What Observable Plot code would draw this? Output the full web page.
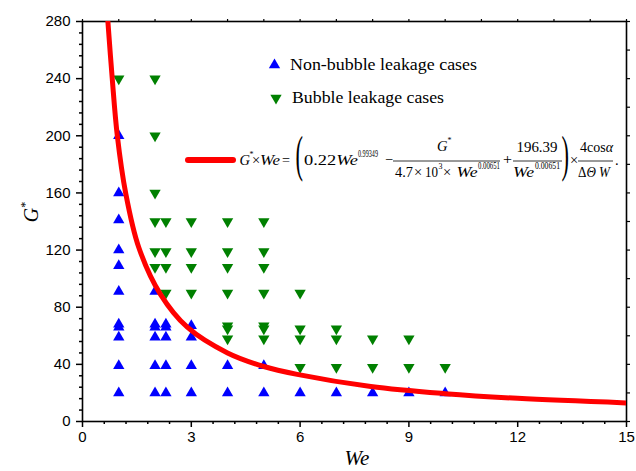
<!DOCTYPE html>
<html>
<head>
<meta charset="utf-8">
<script src="https://cdn.jsdelivr.net/npm/d3@7"></script>
<script src="https://cdn.jsdelivr.net/npm/@observablehq/plot@0.6"></script>
<style>
  html, body { margin: 0; padding: 0; background: white; }
  #chart svg { display: block; }
</style>
</head>
<body>
<div id="chart"></div>
<script>
// ---- data ----
const weColumns = [1, 2, 2.3, 3, 4, 5, 6, 7, 8, 9, 10];
const nonBubbleG = [
  [20, 39, 59, 66, 68, 91, 109, 120, 141, 160, 200],
  [20, 39, 59, 66, 68, 91],
  [20, 39, 59, 66, 68],
  [20, 39, 59, 67],
  [20, 39],
  [20, 39],
  [20],
  [20],
  [20],
  [20],
  [20]
];
const bubbleG = [
  [240],
  [108, 119, 140, 160, 200, 240],
  [90, 108, 119, 140],
  [90, 108, 119, 140],
  [58, 65, 67, 90, 108, 119, 140],
  [58, 65, 67, 90, 108, 119, 140],
  [38, 58, 65, 90],
  [38, 58, 65],
  [38, 58],
  [38, 58],
  [38]
];
// fitted curve, points
const curveWe = [0.70, 0.82, 0.96, 1.19, 1.55, 2.15, 2.89, 4.0, 5.0, 5.92, 7.95, 10.0, 12.0, 15.0];
const curveG  = [280, 240, 200, 160, 122, 89, 66, 48, 38.5, 33, 24.5, 19.5, 16.2, 13.0];

const xTicks = [0, 3, 6, 9, 12, 15];
const yTicks = [0, 40, 80, 120, 160, 200, 240, 280];
const xMinor = d3.range(0, 26).map(i => +(i * 0.6).toFixed(2)).filter(v => Math.abs(v / 3 - Math.round(v / 3)) > 1e-6);
const yMinor = d3.range(0, 36).map(i => i * 8).filter(v => v % 40 !== 0);
const xTop = d3.range(0, 16);
const yRight = d3.range(0, 281, 20);

const legendLabels = ["Non-bubble leakage cases", "Bubble leakage cases"];

// ---- build tables ----
const nonBubble = weColumns.flatMap((w, i) => nonBubbleG[i].map(g => ({We: w, G: g})));
const bubble = weColumns.flatMap((w, i) => bubbleG[i].map(g => ({We: w, G: g})));
const curve = curveWe.map((w, i) => ({We: w, G: curveG[i]}));

const blank = () => "";

const chart = Plot.plot({
  width: 636,
  height: 471,
  marginLeft: 82,
  marginRight: 10,
  marginTop: 21,
  marginBottom: 50,
  x: {domain: [0, 15]},
  y: {domain: [0, 280]},
  style: {fontFamily: "'Liberation Sans', Arial, sans-serif", fontSize: "15px", color: "black", background: "white"},
  marks: [
    Plot.axisX(xMinor, {tickSize: 3, tickFormat: blank, strokeWidth: 1.5, label: null}),
    Plot.axisX(xTicks, {tickSize: 6, tickPadding: 4, strokeWidth: 1.5, label: null, fontSize: 15}),
    Plot.axisX(xTop, {anchor: "top", tickSize: 3, tickFormat: blank, strokeWidth: 1.2, label: null}),
    Plot.axisY(yMinor, {tickSize: 3, tickFormat: blank, strokeWidth: 1.5, label: null}),
    Plot.axisY(yTicks, {tickSize: 6, tickPadding: 6, strokeWidth: 1.5, label: null, fontSize: 15}),
    Plot.axisY(yRight, {anchor: "right", tickSize: 3, tickFormat: blank, strokeWidth: 1.2, label: null}),
    Plot.frame({stroke: "black", strokeWidth: 1.6}),
    Plot.dot(nonBubble, {x: "We", y: "G", symbol: "triangle", r: 4.2, fill: "#0000ff"}),
    Plot.dot(bubble, {x: "We", y: "G", symbol: "triangle", r: 4.2, fill: "#008000", rotate: 180}),
    Plot.line(curve, {x: "We", y: "G", stroke: "#ff0000", strokeWidth: 5, curve: "catmull-rom", clip: true})
  ]
});

document.getElementById("chart").appendChild(chart);

// ---- annotations: axis titles, legend, equation ----
const svg = d3.select(chart);
const serif = "'Liberation Serif', 'Times New Roman', serif";
const g = svg.append("g").attr("font-family", serif).attr("fill", "black").attr("text-anchor", "start");

function txt(x, y, s, size, opts = {}) {
  const t = g.append("text").attr("x", x).attr("y", y).attr("font-size", size).text(s);
  if (opts.italic) t.attr("font-style", "italic");
  if (opts.len) t.attr("textLength", opts.len).attr("lengthAdjust", "spacingAndGlyphs");
  if (opts.anchor) t.attr("text-anchor", opts.anchor);
  return t;
}

// axis titles
const yl = g.append("text")
  .attr("transform", "translate(38,212) rotate(-90)")
  .attr("text-anchor", "middle").attr("font-size", 20);
yl.append("tspan").attr("font-style", "italic").text("G");
yl.append("tspan").attr("font-size", 12).attr("dy", -9).text("*");
txt(357, 465, "We", 21, {italic: true, anchor: "middle"});

// legend
svg.append("path").attr("d", d3.symbol(d3.symbolTriangle, Math.PI * 4.2 * 4.2)())
  .attr("transform", "translate(274.5,65)").attr("fill", "#0000ff");
svg.append("path").attr("d", d3.symbol(d3.symbolTriangle, Math.PI * 4.2 * 4.2)())
  .attr("transform", "translate(276,98) rotate(180)").attr("fill", "#008000");
txt(290, 69.5, legendLabels[0], 17, {len: 187});
txt(292, 103, legendLabels[1], 17, {len: 152});
svg.append("line").attr("x1", 188).attr("x2", 233).attr("y1", 160).attr("y2", 160)
  .attr("stroke", "#ff0000").attr("stroke-width", 6).attr("stroke-linecap", "round");

// equation
const y0 = 165, yn = 152, yd = 177, fs = 14.5, ss = 9.5;
txt(239.5, y0, "G", fs, {italic: true});
txt(249.5, y0 - 8, "*", 8);
txt(252, y0, "×", fs);
txt(260, y0, "We", fs, {italic: true, len: 20});
txt(282, y0, "=", fs, {len: 8});
g.append("text").attr("transform", "translate(295.5,171) scale(0.45,1)").attr("font-size", 50).text("(");
{
  const t = txt(304, y0, "", fs, {len: 54});
  t.append("tspan").text("0.22");
  t.append("tspan").attr("font-style", "italic").text("We");
}
txt(358, y0 - 8, "0.99349", ss, {len: 20});
txt(385, y0 - 1, "−", fs, {len: 8});
// fraction 1
txt(437, yn - 1, "G", fs, {italic: true});
txt(447.5, yn - 9, "*", 8);
g.append("line").attr("x1", 393).attr("x2", 500).attr("y1", 161).attr("y2", 161).attr("stroke", "black").attr("stroke-width", 0.8);
txt(395, yd, "4.7", fs, {len: 18});
txt(414, yd, "×", fs);
txt(425, yd, "10", fs, {len: 13});
txt(438.5, yd - 8, "3", 8);
txt(443, yd, "×", fs);
txt(456.5, yd, "We", fs, {italic: true, len: 21});
txt(478, yd - 8, "0.00651", ss, {len: 22});
txt(503, y0 - 1, "+", fs, {len: 9});
// fraction 2
txt(516.5, yn, "196.39", fs, {len: 41});
g.append("line").attr("x1", 513).attr("x2", 562).attr("y1", 161).attr("y2", 161).attr("stroke", "black").attr("stroke-width", 0.8);
txt(513, yd, "We", fs, {italic: true, len: 21});
txt(535, yd - 8, "0.00651", ss, {len: 25});
g.append("text").attr("transform", "translate(561.5,171) scale(0.45,1)").attr("font-size", 50).text(")");
txt(570, y0, "×", fs);
// fraction 3
{
  const t = txt(580, yn, "", fs, {len: 33});
  t.append("tspan").text("4cos");
  t.append("tspan").attr("font-style", "italic").text("α");
}
g.append("line").attr("x1", 578).attr("x2", 613).attr("y1", 161).attr("y2", 161).attr("stroke", "black").attr("stroke-width", 0.8);
{
  const t = txt(578, yd, "", fs, {len: 32});
  t.append("tspan").text("Δ");
  t.append("tspan").attr("font-style", "italic").text("Θ W");
}
txt(615, y0, ".", fs);
</script>
</body>
</html>
